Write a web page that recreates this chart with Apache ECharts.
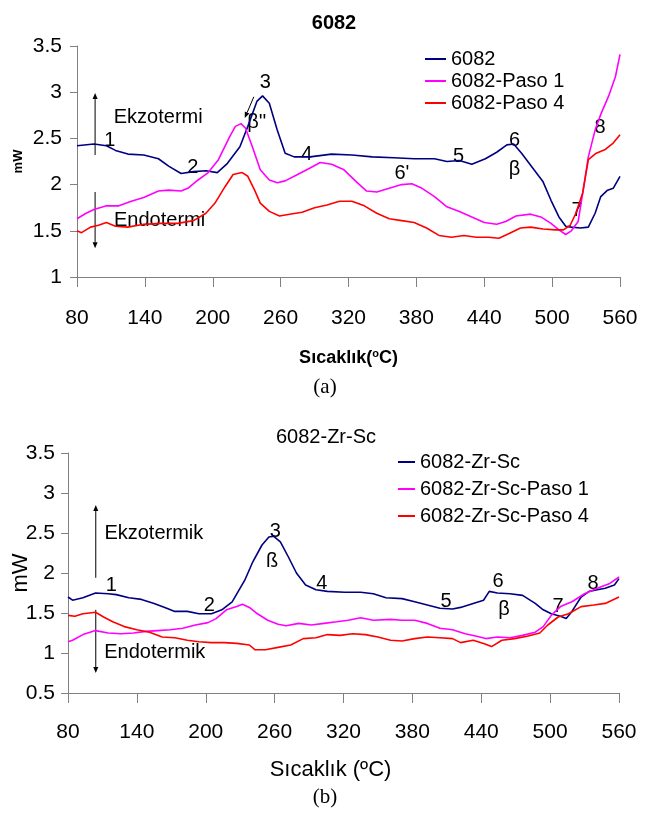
<!DOCTYPE html>
<html><head><meta charset="utf-8">
<script src="https://cdn.jsdelivr.net/npm/echarts@6/dist/echarts.min.js"></script>
<style>html,body{margin:0;padding:0;background:#fff}#c{width:650px;height:816px}</style>
</head><body><div id="c"></div>
<script>
// ---------- DATA ----------
const xTicks = [80, 140, 200, 260, 320, 380, 440, 500, 560];

// (a) 6082
const aBlueT = [80,95,106,114,125,139,152,161,172,183,194,204,213,224,231,239,244,250,257,264,272,286,305,323,341,360,378,396,407,418,429,441,451,460,466,473,484,492,499,506,512,517,525,532,538,543,549,554,560];
const aBlueMW = [2.42,2.44,2.42,2.37,2.33,2.32,2.28,2.20,2.12,2.14,2.15,2.13,2.23,2.41,2.63,2.90,2.96,2.88,2.59,2.34,2.30,2.30,2.33,2.32,2.30,2.29,2.28,2.28,2.25,2.26,2.22,2.28,2.35,2.43,2.44,2.34,2.16,2.03,1.83,1.65,1.55,1.54,1.53,1.54,1.69,1.87,1.94,1.96,2.09];

const aMagT = [80,88,95,106,117,128,139,152,161,172,178,187,196,205,215,220,225,229,235,242,250,257,264,275,286,295,305,316,327,336,345,356,367,376,385,396,407,418,429,440,451,459,468,481,490,499,506,512,517,523,528,532,538,543,550,556,560];
const aMagMW = [1.63,1.69,1.73,1.77,1.77,1.82,1.86,1.93,1.94,1.93,1.96,2.05,2.13,2.27,2.52,2.63,2.66,2.61,2.41,2.16,2.05,2.02,2.04,2.11,2.18,2.24,2.22,2.16,2.03,1.93,1.92,1.96,2.00,2.01,1.96,1.87,1.76,1.71,1.65,1.59,1.57,1.60,1.66,1.68,1.65,1.58,1.51,1.46,1.50,1.60,1.98,2.30,2.59,2.76,2.96,3.17,3.41];

const aRedT = [80,84,92,99,106,114,125,139,154,169,183,194,202,211,218,226,231,237,242,250,259,268,279,290,301,312,323,334,345,356,367,378,389,400,411,422,433,444,453,462,472,481,492,503,510,516,521,527,532,539,547,554,560];
const aRedMW = [1.50,1.48,1.54,1.56,1.59,1.55,1.54,1.57,1.58,1.58,1.61,1.69,1.80,1.98,2.11,2.13,2.09,1.94,1.80,1.71,1.66,1.68,1.70,1.75,1.78,1.82,1.82,1.77,1.69,1.63,1.61,1.59,1.53,1.45,1.43,1.45,1.43,1.43,1.42,1.47,1.53,1.54,1.52,1.51,1.51,1.56,1.69,1.91,2.27,2.34,2.38,2.45,2.54];

// (b) 6082-Zr-Sc
const bBlueT = [80,84,93,104,115,122,133,144,155,166,173,184,194,205,214,223,234,241,249,255,259,265,272,279,287,296,306,321,335,346,357,371,382,393,404,415,422,433,442,447,454,465,476,487,494,501,509,514,519,527,534,541,548,556,560];
const bBlueMW = [1.70,1.66,1.69,1.75,1.74,1.73,1.69,1.67,1.62,1.56,1.52,1.52,1.49,1.49,1.54,1.64,1.91,2.14,2.35,2.45,2.46,2.39,2.20,2.00,1.85,1.79,1.77,1.76,1.76,1.74,1.69,1.68,1.64,1.60,1.56,1.55,1.57,1.62,1.66,1.77,1.75,1.74,1.72,1.62,1.54,1.49,1.46,1.43,1.52,1.70,1.77,1.79,1.81,1.85,1.93];

const bMagT = [80,84,93,104,115,126,137,148,158,169,180,191,202,209,218,227,232,238,245,254,263,270,281,292,303,314,324,335,346,361,371,382,393,404,415,426,436,444,454,465,476,487,494,501,509,519,530,541,552,560];
const bMagMW = [1.14,1.16,1.23,1.28,1.25,1.24,1.25,1.27,1.28,1.29,1.31,1.35,1.38,1.43,1.54,1.58,1.61,1.57,1.49,1.41,1.36,1.34,1.37,1.35,1.37,1.39,1.41,1.44,1.41,1.42,1.41,1.41,1.37,1.31,1.29,1.24,1.21,1.18,1.20,1.19,1.22,1.26,1.33,1.47,1.58,1.64,1.74,1.81,1.87,1.95];

const bRedT = [80,86,93,104,111,119,129,140,151,162,173,184,194,205,216,227,238,243,252,263,274,285,296,306,317,328,339,350,361,371,382,393,404,415,422,433,442,449,458,469,480,491,498,507,516,527,538,548,560];
const bRedMW = [1.47,1.46,1.49,1.51,1.45,1.39,1.33,1.29,1.26,1.20,1.19,1.16,1.14,1.13,1.13,1.12,1.10,1.04,1.04,1.07,1.10,1.18,1.19,1.23,1.22,1.24,1.23,1.20,1.16,1.15,1.18,1.20,1.19,1.18,1.13,1.16,1.12,1.08,1.16,1.18,1.21,1.25,1.35,1.45,1.49,1.58,1.60,1.62,1.70];

// annotations (data coordinates)
const annotA = [[151.8,2.73,'Ekzotermi'],[153,1.615,'Endotermi'],[108.9,2.48,'1'],[182.3,2.18,'2'],[246.5,3.11,'3'],[239,2.67,"β''"],[283.2,2.33,'4'],[367.2,2.12,"6'"],[417.2,2.30,'5'],[466.7,2.48,'6'],[466.7,2.16,'β'],[522,1.72,'7'],[542.4,2.62,'8']];
const annotB = [[154.8,2.50,'Ekzotermik'],[155.6,1.01,'Endotermik'],[117.8,1.85,'1'],[203.1,1.60,'2'],[260.5,2.52,'3'],[257.9,2.14,'ß'],[301.1,1.87,'4'],[409.4,1.64,'5'],[454.7,1.89,'6'],[459.9,1.54,'β'],[506.9,1.58,'7'],[537.4,1.87,'8']];
const arrowsA = [[96,2.32,96,2.99],[96,1.92,96,1.31],[236.3,2.95,228.3,2.72]];
const arrowsB = [[104.2,1.94,104.2,2.85],[104.2,1.54,104.2,0.75]];

// ---------- CHART ----------
const FONT = "'Liberation Sans', Arial, Helvetica, sans-serif";
const SERIF = "'Liberation Serif', 'Times New Roman', serif";
const AX = '#808080';
const pts = (t, v) => t.map((x, i) => [x, v[i]]);

const chart = echarts.init(document.getElementById('c'), null, {renderer: 'canvas'});

function xAxisCfg(g, name, gap, nameStyle, margin) {
  return {
    gridIndex: g, type: 'value', min: 80, max: 560,
    axisLine: {show: true, onZero: false, lineStyle: {color: AX, width: 1}},
    axisTick: {show: true, customValues: xTicks, length: 10, lineStyle: {color: AX}},
    axisLabel: {customValues: xTicks, margin: margin, fontSize: 21, color: '#000', fontFamily: FONT},
    splitLine: {show: false},
    name: name, nameLocation: 'middle', nameGap: gap, nameTextStyle: nameStyle
  };
}
function yAxisCfg(g, min, gap, nameStyle, margin) {
  return {
    gridIndex: g, type: 'value', min: min, max: 3.5, interval: 0.5,
    axisLine: {show: true, onZero: false, lineStyle: {color: AX, width: 1}},
    axisTick: {show: true, length: 7, lineStyle: {color: AX}},
    axisLabel: {margin: margin, fontSize: 21, color: '#000', fontFamily: FONT},
    splitLine: {show: false},
    name: 'mW', nameLocation: 'middle', nameRotate: 90, nameGap: gap, nameMoveOverlap: false,
    nameTextStyle: nameStyle
  };
}
function line(name, xi, t, v, color) {
  return {
    name: name, type: 'line', xAxisIndex: xi, yAxisIndex: xi, data: pts(t, v),
    symbol: 'none', showSymbol: false, smooth: false, animation: false,
    lineStyle: {color: color, width: 1.6}, itemStyle: {color: color}
  };
}

const option = {
  backgroundColor: '#fff',
  animation: false,
  grid: [
    {left: 77, top: 46, width: 543, height: 231, outerBoundsMode: 'none', containLabel: false},
    {left: 68, top: 453, width: 551, height: 240, outerBoundsMode: 'none', containLabel: false}
  ],
  xAxis: [
    xAxisCfg(0, '{t|Sıcaklık(}{s|o}{t|C)}', 71, {
      rich: {t: {fontSize: 18, fontWeight: 'bold', fontFamily: FONT, color: '#000'},
             s: {fontSize: 11, fontWeight: 'bold', fontFamily: FONT, color: '#000', verticalAlign: 'top', padding: [0, 0, 10, 0]}}
    }, 31),
    xAxisCfg(1, 'Sıcaklık (ºC)', 66, {fontSize: 22, color: '#000', fontFamily: FONT, padding: [0, 26, 0, 0]}, 29)
  ],
  yAxis: [
    yAxisCfg(0, 1, 52, {fontSize: 13, fontWeight: 'bold', color: '#000', fontFamily: FONT}, 15),
    yAxisCfg(1, 0.5, 36, {fontSize: 22, color: '#000', fontFamily: FONT}, 13)
  ],
  legend: [
    {data: ['6082', '6082-Paso 1', '6082-Paso 4'], orient: 'vertical', left: 425, top: 49,
     icon: 'rect', itemWidth: 21, itemHeight: 2, itemGap: 2, padding: 0,
     textStyle: {fontSize: 20, lineHeight: 20, color: '#000', fontFamily: FONT}},
    {data: ['6082-Zr-Sc', '6082-Zr-Sc-Paso 1', '6082-Zr-Sc-Paso 4'], orient: 'vertical', left: 398, top: 452,
     icon: 'rect', itemWidth: 17, itemHeight: 2, itemGap: 7, padding: 0,
     textStyle: {fontSize: 20, lineHeight: 20, color: '#000', fontFamily: FONT}}
  ],
  series: [
    line('6082', 0, aBlueT, aBlueMW, '#000080'),
    line('6082-Paso 1', 0, aMagT, aMagMW, '#FF00FF'),
    line('6082-Paso 4', 0, aRedT, aRedMW, '#FF0000'),
    line('6082-Zr-Sc', 1, bBlueT, bBlueMW, '#000080'),
    line('6082-Zr-Sc-Paso 1', 1, bMagT, bMagMW, '#FF00FF'),
    line('6082-Zr-Sc-Paso 4', 1, bRedT, bRedMW, '#FF0000')
  ]
};
chart.setOption(option);

// ---------- annotations ----------
const g = [];
function txt(x, y, s, style) {
  g.push({type: 'text', x: x, y: y, silent: true,
          style: Object.assign({text: s, fill: '#000', align: 'center', verticalAlign: 'middle', font: '20px ' + FONT}, style || {})});
}
function addAnnots(list, gi) {
  list.forEach(a => {
    const p = chart.convertToPixel({gridIndex: gi}, [a[0], a[1]]);
    txt(p[0], p[1], a[2]);
  });
}
function addArrows(list, gi) {
  list.forEach(a => {
    const p0 = chart.convertToPixel({gridIndex: gi}, [a[0], a[1]]);
    const p1 = chart.convertToPixel({gridIndex: gi}, [a[2], a[3]]);
    const dx = p1[0] - p0[0], dy = p1[1] - p0[1];
    const L = Math.sqrt(dx * dx + dy * dy), ux = dx / L, uy = dy / L;
    const hl = 6, hw = 2.5;
    const bx = p1[0] - ux * hl, by = p1[1] - uy * hl;
    g.push({type: 'line', silent: true, shape: {x1: p0[0], y1: p0[1], x2: bx, y2: by}, style: {stroke: '#000', lineWidth: 1}});
    g.push({type: 'polygon', silent: true, shape: {points: [[p1[0], p1[1]], [bx - uy * hw, by + ux * hw], [bx + uy * hw, by - ux * hw]]}, style: {fill: '#000'}});
  });
}
addAnnots(annotA, 0);
addAnnots(annotB, 1);
addArrows(arrowsA, 0);
addArrows(arrowsB, 1);
// titles and captions
txt(334, 23, '6082', {font: 'bold 20px ' + FONT});
txt(326, 437, '6082-Zr-Sc', {font: '20px ' + FONT});
txt(325, 387, '(a)', {font: '21px ' + SERIF});
txt(325, 797, '(b)', {font: '21px ' + SERIF});
chart.setOption({graphic: g});
</script>
</body></html>
